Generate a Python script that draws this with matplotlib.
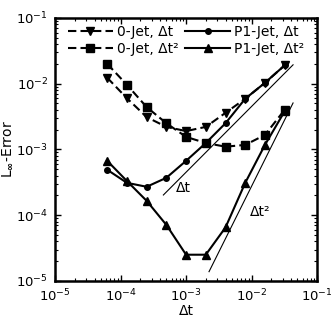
import numpy as np
import matplotlib
matplotlib.use("Agg")
import matplotlib.pyplot as plt

# time step sizes
dt = [6.25e-5, 1.25e-4, 2.5e-4, 5e-4, 1e-3, 2e-3, 4e-3, 8e-3, 1.6e-2, 3.2e-2]

# L-infinity errors
jet0_dt = [1.23e-2, 6.0e-3, 3.1e-3, 2.2e-3, 1.9e-3, 2.2e-3, 3.6e-3, 5.9e-3, 1.03e-2, 1.9e-2]
jet0_dt2 = [2.0e-2, 9.6e-3, 4.4e-3, 2.5e-3, 1.55e-3, 1.25e-3, 1.1e-3, 1.17e-3, 1.66e-3, 4.0e-3]
p1_dt = [4.9e-4, 3.1e-4, 2.7e-4, 3.7e-4, 6.7e-4, 1.25e-3, 2.5e-3, 5.9e-3, 1.03e-2, 1.9e-2]
p1_dt2 = [6.7e-4, 3.3e-4, 1.65e-4, 7.1e-5, 2.5e-5, 2.5e-5, 6.5e-5, 3.1e-4, 1.17e-3, 3.8e-3]

# reference slopes
ref1_x = [4.5e-4, 4.3e-2]
ref1_y = [0.45 * x for x in ref1_x]
ref2_x = [2.24e-3, 4.3e-2]
ref2_y = [2.75 * x ** 2 for x in ref2_x]

plt.rcParams['font.family'] = ['DejaVu Sans']
plt.rcParams['font.size'] = 10

fig = plt.figure(figsize=(3.32, 3.32), dpi=100)
ax = fig.add_axes([0.166, 0.154, 0.789, 0.792])

l1, = ax.plot(dt, jet0_dt, 'k--', marker='v', ms=5.5, lw=1.5, dashes=(4, 2), label='0-Jet, Δt')
l2, = ax.plot(dt, p1_dt, 'k-', marker='o', ms=4, lw=1.5, label='P1-Jet, Δt')
l3, = ax.plot(dt, jet0_dt2, 'k--', marker='s', ms=5.5, lw=1.5, dashes=(4, 2), label='0-Jet, Δt²')
l4, = ax.plot(dt, p1_dt2, 'k-', marker='^', ms=5.5, lw=1.5, label='P1-Jet, Δt²')

ax.plot(ref1_x, ref1_y, 'k-', lw=0.8)
ax.plot(ref2_x, ref2_y, 'k-', lw=0.8)
ax.text(7.1e-4, 2.6e-4, 'Δt', fontsize=10, va='center')
ax.text(9.5e-3, 1.1e-4, 'Δt²', fontsize=10, va='center')

ax.set_xscale('log')
ax.set_yscale('log')
ax.set_xlim(1e-5, 1e-1)
ax.set_ylim(1e-5, 1e-1)
ax.set_xlabel('Δt', labelpad=0)
ax.set_ylabel('L$_{\\mathbf{\\infty}}$-Error', labelpad=1)

for s in ax.spines.values():
    s.set_linewidth(1.8)
ax.tick_params(which='both', direction='in', top=True, right=True, labelsize=9.5)
ax.tick_params(which='major', length=4, width=1, pad=5)
ax.tick_params(which='minor', length=2, width=0.8)

ax.legend([l1, l3, l2, l4], [l1.get_label(), l3.get_label(), l2.get_label(), l4.get_label()],
          ncol=2, loc='upper center', frameon=False, handlelength=3.2,
          columnspacing=0.5, handletextpad=0.3, borderaxespad=0.1,
          labelspacing=0.25, fontsize=10)

fig.savefig('out.png', dpi=100)
